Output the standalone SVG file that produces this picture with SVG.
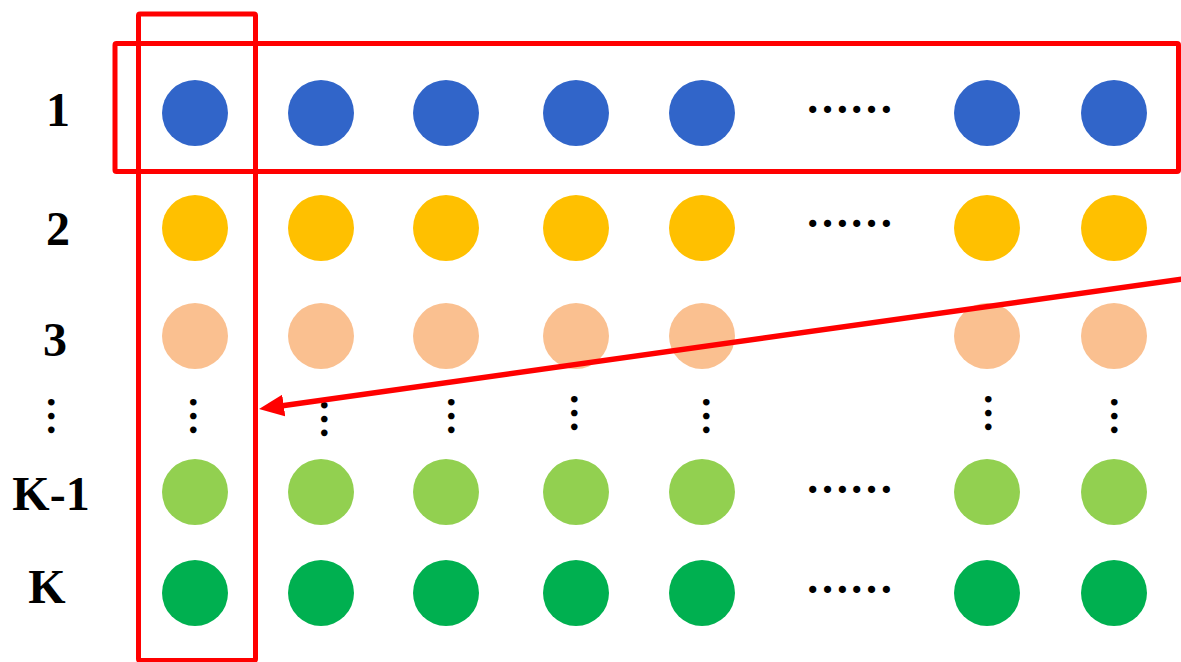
<svg xmlns="http://www.w3.org/2000/svg" width="1181" height="662" viewBox="0 0 1181 662">
<style>
.lbl{font-family:"Liberation Serif","Times New Roman",serif;font-weight:bold;font-size:48px;fill:#000;text-anchor:middle}
.ell{font-family:"Liberation Serif","Times New Roman",serif;font-weight:bold;font-size:44px;fill:#000;text-anchor:middle}
.vell{font-family:"Liberation Serif","Times New Roman",serif;font-weight:bold;font-size:41px;fill:#000;text-anchor:middle}
.box{fill:none;stroke:#FF0000;stroke-width:5;stroke-linejoin:round}
.r1{fill:#3165C9}.r2{fill:#FFC000}.r3{fill:#FAC090}.r4{fill:#92D050}.r5{fill:#00B050}
</style>
<defs>
<marker id="ah" viewBox="0 0 25 22" refX="14" refY="11" markerWidth="25" markerHeight="22" markerUnits="userSpaceOnUse" orient="auto">
<path d="M0,0 L25,11 L0,22 Z" fill="#FF0000"/>
</marker>
</defs>
<rect width="1181" height="662" fill="#FFFFFF"/>
<g id="labels">
<text class="lbl" x="58" y="126">1</text>
<text class="lbl" x="58" y="245">2</text>
<text class="lbl" x="55" y="356">3</text>
<text class="vell" transform="translate(51,416) rotate(90)" x="0" y="3">…</text>
<text class="lbl" x="51" y="510">K-1</text>
<text class="lbl" x="47" y="603">K</text>
</g>
<g id="row1">
<g id="n1-1"><circle class="r1" cx="195" cy="113" r="33"/></g>
<g id="n1-2"><circle class="r1" cx="321" cy="113" r="33"/></g>
<g id="n1-3"><circle class="r1" cx="446" cy="113" r="33"/></g>
<g id="n1-4"><circle class="r1" cx="576" cy="113" r="33"/></g>
<g id="n1-5"><circle class="r1" cx="702" cy="113" r="33"/></g>
<text class="ell" x="849.5" y="112.5">……</text>
<g id="n1-7"><circle class="r1" cx="987" cy="113" r="33"/></g>
<g id="n1-8"><circle class="r1" cx="1114" cy="113" r="33"/></g>
</g>
<g id="row2">
<g id="n2-1"><circle class="r2" cx="195" cy="228" r="33"/></g>
<g id="n2-2"><circle class="r2" cx="321" cy="228" r="33"/></g>
<g id="n2-3"><circle class="r2" cx="446" cy="228" r="33"/></g>
<g id="n2-4"><circle class="r2" cx="576" cy="228" r="33"/></g>
<g id="n2-5"><circle class="r2" cx="702" cy="228" r="33"/></g>
<text class="ell" x="849.5" y="226.5">……</text>
<g id="n2-7"><circle class="r2" cx="987" cy="228" r="33"/></g>
<g id="n2-8"><circle class="r2" cx="1114" cy="228" r="33"/></g>
</g>
<g id="row3">
<g id="n3-1"><circle class="r3" cx="195" cy="336" r="33"/></g>
<g id="n3-2"><circle class="r3" cx="321" cy="336" r="33"/></g>
<g id="n3-3"><circle class="r3" cx="446" cy="336" r="33"/></g>
<g id="n3-4"><circle class="r3" cx="576" cy="336" r="33"/></g>
<g id="n3-5"><circle class="r3" cx="702" cy="336" r="33"/></g>
<g id="n3-7"><circle class="r3" cx="987" cy="336" r="33"/></g>
<g id="n3-8"><circle class="r3" cx="1114" cy="336" r="33"/></g>
</g>
<g id="vdots">
<text class="vell" transform="translate(193,416) rotate(90)" x="0" y="3">…</text>
<text class="vell" transform="translate(324,419) rotate(90)" x="0" y="3">…</text>
<text class="vell" transform="translate(451,416) rotate(90)" x="0" y="3">…</text>
<text class="vell" transform="translate(574,413) rotate(90)" x="0" y="3">…</text>
<text class="vell" transform="translate(706,416) rotate(90)" x="0" y="3">…</text>
<text class="vell" transform="translate(988,413) rotate(90)" x="0" y="3">…</text>
<text class="vell" transform="translate(1114,416) rotate(90)" x="0" y="3">…</text>
</g>
<g id="rowK-1">
<g id="n4-1"><circle class="r4" cx="195" cy="492" r="33"/></g>
<g id="n4-2"><circle class="r4" cx="321" cy="492" r="33"/></g>
<g id="n4-3"><circle class="r4" cx="446" cy="492" r="33"/></g>
<g id="n4-4"><circle class="r4" cx="576" cy="492" r="33"/></g>
<g id="n4-5"><circle class="r4" cx="702" cy="492" r="33"/></g>
<text class="ell" x="849.5" y="492.5">……</text>
<g id="n4-7"><circle class="r4" cx="987" cy="492" r="33"/></g>
<g id="n4-8"><circle class="r4" cx="1114" cy="492" r="33"/></g>
</g>
<g id="rowK">
<g id="n5-1"><circle class="r5" cx="195" cy="593" r="33"/></g>
<g id="n5-2"><circle class="r5" cx="321" cy="593" r="33"/></g>
<g id="n5-3"><circle class="r5" cx="446" cy="593" r="33"/></g>
<g id="n5-4"><circle class="r5" cx="576" cy="593" r="33"/></g>
<g id="n5-5"><circle class="r5" cx="702" cy="593" r="33"/></g>
<text class="ell" x="849.5" y="592.5">……</text>
<g id="n5-7"><circle class="r5" cx="987" cy="593" r="33"/></g>
<g id="n5-8"><circle class="r5" cx="1114" cy="593" r="33"/></g>
</g>
<g id="row-box"><rect class="box" x="115" y="43.5" width="1063.5" height="128" rx="1.5"/></g>
<g id="col-box"><rect class="box" x="138.5" y="14" width="117" height="646.5" rx="1.5"/></g>
<g id="connectors">
<line x1="1183" y1="279" x2="269.9" y2="407.5" stroke="#FF0000" stroke-width="5.5" marker-end="url(#ah)"/>
</g>
</svg>
